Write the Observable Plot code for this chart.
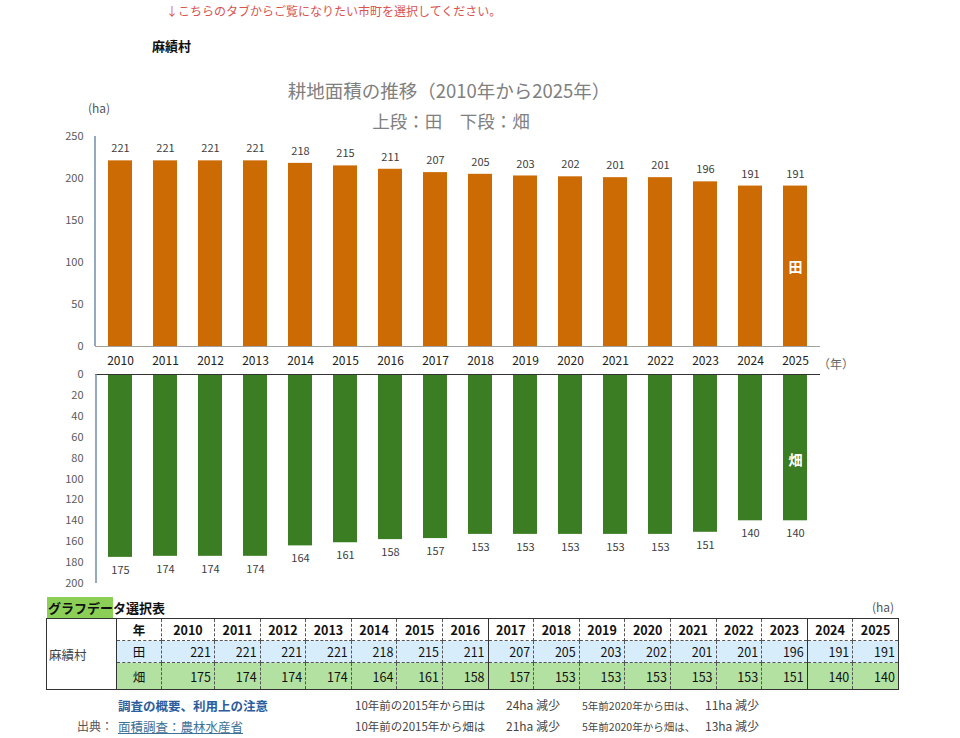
<!DOCTYPE html>
<html lang="ja">
<head>
<meta charset="utf-8">
<script src="https://cdn.jsdelivr.net/npm/d3@7"></script>
<script src="https://cdn.jsdelivr.net/npm/@observablehq/plot@0.6"></script>
<style>
  html, body { margin: 0; padding: 0; background: #fff; }
  body { width: 960px; height: 738px; position: relative; overflow: hidden;
         font-family: "Noto Sans CJK JP", "Noto Sans", sans-serif; }
  .abs { position: absolute; white-space: nowrap; }
  #notice { left: 166px; top: 2px; font-size: 12px; color: #d9534f; }
  #town { left: 152px; top: 36px; font-size: 13px; font-weight: bold; color: #111; }
  #title { left: 0; width: 898px; text-align: center; top: 77px; font-size: 18.5px; color: #808080; }
  #subtitle { left: 0; width: 902px; text-align: center; top: 108px; font-size: 17.5px; color: #808080; }
  #unit { left: 88px; top: 99px; font-size: 12px; color: #555; }
  #yearunit { left: 818px; top: 355px; font-size: 12px; color: #666; }
  #top, #bottom { position: absolute; left: 0; }
  #top { top: 125px; }
  #bottom { top: 365px; }
  #tabletitle { left: 47px; top: 598px; font-size: 13px; font-weight: bold; color: #111; }
  #tabletitle .hl { background: #8ccf56; padding: 1px 0 2px 1px; }
  #tableunit { left: 872px; top: 598px; font-size: 12px; color: #555; }
  table { position: absolute; left: 46px; top: 618px; border-collapse: collapse;
          font-size: 12.5px; color: #111; table-layout: fixed; border: 1px solid #333; }
  td { padding: 0 3px; border: 1px dashed #555; }
  tr.hdr td { height: 21px; font-weight: bold; text-align: center; background: #fff; }
  tr.ta td { height: 21px; background: #d7edfb; text-align: right; }
  tr.ha td { height: 26px; background: #b3e1a2; text-align: right; }
  td.name { border: 1px solid #333; background: #fff !important; text-align: left !important;
            font-weight: normal !important; color: #444; padding-left: 2px; }
  td.kind { text-align: center !important; font-weight: normal; }
  td.solidR { border-right: 1px solid #333; }
  #link1 { left: 118px; top: 696px; font-size: 12.5px; font-weight: bold; color: #2d5d9c; }
  #src { left: 77px; top: 717px; font-size: 12px; color: #555; }
  #link2 { left: 118px; top: 717px; font-size: 12.5px; color: #3f7196; text-decoration: underline; }
  .note { font-size: 11.5px; color: #444; }
  .note.short { font-size: 10.5px; }
  .amt { font-size: 12px; color: #444; }
</style>
</head>
<body>
<div id="notice" class="abs">↓こちらのタブからご覧になりたい市町を選択してください。</div>
<div id="town" class="abs">麻績村</div>
<div id="title" class="abs">耕地面積の推移（2010年から2025年）</div>
<div id="subtitle" class="abs">上段：田　下段：畑</div>
<div id="unit" class="abs">(ha)</div>
<div id="yearunit" class="abs">（年）</div>
<div id="top"></div>
<div id="bottom"></div>
<div id="tabletitle" class="abs"><span class="hl">グラフデー</span>タ選択表</div>
<div id="tableunit" class="abs">(ha)</div>
<div id="tablebox"></div>
<div id="link1" class="abs">調査の概要、利用上の注意</div>
<div id="src" class="abs">出典：</div>
<div id="link2" class="abs">面積調査：農林水産省</div>
<div id="n1" class="abs note" style="left:355px; top:697px">10年前の2015年から田は</div>
<div id="a1" class="abs amt" style="left:506px; top:696px"></div>
<div id="n2" class="abs note short" style="left:582px; top:698px">5年前2020年から田は、</div>
<div id="a2" class="abs amt" style="left:705px; top:696px"></div>
<div id="n3" class="abs note" style="left:355px; top:718px">10年前の2015年から畑は</div>
<div id="a3" class="abs amt" style="left:506px; top:717px"></div>
<div id="n4" class="abs note short" style="left:582px; top:719px">5年前2020年から畑は、</div>
<div id="a4" class="abs amt" style="left:705px; top:717px"></div>

<script>
// 麻績村の耕地面積（ha）
const townName = "麻績村";
const years = ["2010","2011","2012","2013","2014","2015","2016","2017",
               "2018","2019","2020","2021","2022","2023","2024","2025"];
const paddy = [221, 221, 221, 221, 218, 215, 211, 207, 205, 203, 202, 201, 201, 196, 191, 191];
const upland = [175, 174, 174, 174, 164, 161, 158, 157, 153, 153, 153, 153, 153, 151, 140, 140];
const paddyTicks = [0, 50, 100, 150, 200, 250];
const uplandTicks = [0, 20, 40, 60, 80, 100, 120, 140, 160, 180, 200];

const paddyColor = "#cc6a04";
const uplandColor = "#3b7d23";
const axisLineColor = "#6f8ca6";
const fontFamily = "'Noto Sans CJK JP', 'Noto Sans', sans-serif";

const paddyData = years.map((year, i) => ({year, value: paddy[i]}));
const uplandData = years.map((year, i) => ({year, value: upland[i]}));
const lastPaddy = paddyData[paddyData.length - 1];
const lastUpland = uplandData[uplandData.length - 1];

const xScale = {
  type: "band", domain: years, paddingInner: 0.47, paddingOuter: 0.24, align: 0.5
};

// draws the vertical value-axis line along the left edge of a plot
function addAxisLine(chart, marginLeft) {
  const [y0, y1] = chart.scale("y").range;
  d3.select(chart).append("line")
    .attr("x1", marginLeft).attr("x2", marginLeft)
    .attr("y1", y0).attr("y2", y1)
    .attr("stroke", axisLineColor).attr("stroke-width", 1.5);
}

// 上段：田
const topPlot = Plot.plot({
  width: 960, height: 250,
  marginTop: 11, marginBottom: 29, marginLeft: 95, marginRight: 140,
  style: {fontFamily, fontSize: "11px", color: "#595959", background: "transparent"},
  x: {...xScale, label: null},
  y: {domain: [0, 250], label: null},
  marks: [
    Plot.barY(paddyData, {x: "year", y: "value", fill: paddyColor}),
    Plot.ruleY([0], {stroke: "#a0a0a0"}),
    Plot.axisY({ticks: paddyTicks, tickSize: 0, tickPadding: 12, label: null,
                fontSize: 11, fill: "#595959"}),
    Plot.axisX({tickSize: 0, tickPadding: 10, label: null, fontSize: 12, fill: "#222"}),
    Plot.text(paddyData, {x: "year", y: "value", text: "value", dy: -12,
                          fontSize: 11, fill: "#404040"}),
    Plot.text([lastPaddy], {x: "year", y: d => d.value * 0.49, text: () => "田",
                            fill: "white", fontWeight: "bold", fontSize: 14})
  ]
});
addAxisLine(topPlot, 95);
document.getElementById("top").append(topPlot);

// 下段：畑（下向き）
const bottomPlot = Plot.plot({
  width: 960, height: 230,
  marginTop: 9, marginBottom: 12, marginLeft: 95, marginRight: 140,
  style: {fontFamily, fontSize: "11px", color: "#595959", background: "transparent"},
  x: {...xScale, axis: null},
  y: {domain: [0, 200], reverse: true, label: null},
  marks: [
    Plot.barY(uplandData, {x: "year", y: "value", fill: uplandColor}),
    Plot.ruleY([0], {stroke: "#333"}),
    Plot.axisY({ticks: uplandTicks, tickSize: 0, tickPadding: 12, label: null,
                fontSize: 11, fill: "#595959"}),
    Plot.text(uplandData, {x: "year", y: "value", text: "value", dy: 13,
                           fontSize: 11, fill: "#404040"}),
    Plot.text([lastUpland], {x: "year", y: d => d.value * 0.59, text: () => "畑",
                             fill: "white", fontWeight: "bold", fontSize: 14})
  ]
});
addAxisLine(bottomPlot, 96);
document.getElementById("bottom").append(bottomPlot);

// グラフデータ選択表
const solidAfter = new Set(["2016", "2023"]);
let html = "<table><colgroup>";
html += `<col style="width:70px"><col style="width:45px"><col style="width:53px">`;
for (let i = 1; i < years.length; i++) html += `<col style="width:45.6px">`;
html += "</colgroup>";
html += `<tr class="hdr"><td class="name" rowspan="3">${townName}</td><td>年</td>`;
years.forEach(y => html += `<td class="${solidAfter.has(y) ? "solidR" : ""}">${y}</td>`);
html += `</tr><tr class="ta"><td class="kind">田</td>`;
paddy.forEach((v, i) => html += `<td class="${solidAfter.has(years[i]) ? "solidR" : ""}">${v}</td>`);
html += `</tr><tr class="ha"><td class="kind">畑</td>`;
upland.forEach((v, i) => html += `<td class="${solidAfter.has(years[i]) ? "solidR" : ""}">${v}</td>`);
html += "</tr></table>";
document.getElementById("tablebox").innerHTML = html;

// 減少量の注記
const idx = y => years.indexOf(y);
const last = years.length - 1;
document.getElementById("a1").textContent = `${paddy[idx("2015")] - paddy[last]}ha 減少`;
document.getElementById("a2").textContent = `${paddy[idx("2020")] - paddy[last]}ha 減少`;
document.getElementById("a3").textContent = `${upland[idx("2015")] - upland[last]}ha 減少`;
document.getElementById("a4").textContent = `${upland[idx("2020")] - upland[last]}ha 減少`;
</script>
</body>
</html>
